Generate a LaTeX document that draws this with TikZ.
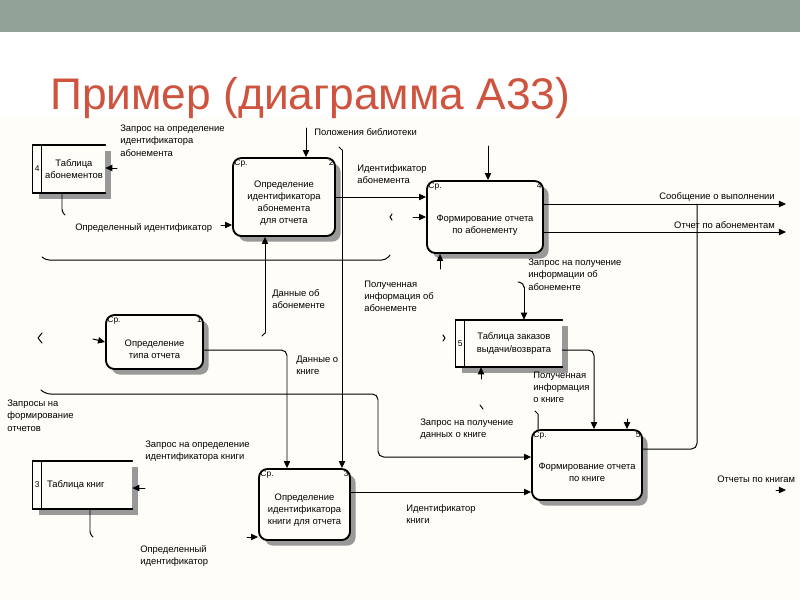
\documentclass[tikz,border=0pt]{standalone}
\usepackage{fontspec}
\setmainfont{Liberation Sans}
\usetikzlibrary{arrows.meta}
\usetikzlibrary{positioning}
\usetikzlibrary{shadows}

\definecolor{slidebar}{HTML}{93A299}
\definecolor{titlered}{HTML}{CF543F}
\definecolor{paper}{HTML}{FFFDF7}
\newcommand\diagfont{\fontsize{6.7}{8.6}\selectfont}
\newcommand\cornerfont{\fontsize{6}{7}\selectfont}

\tikzset{
  act/.style={draw, line width=1.3pt, rounded corners=6pt, fill=paper,
    drop shadow={shadow xshift=4pt, shadow yshift=-4pt, fill=black!40, opacity=1}},
  store/.style={fill=paper,
    drop shadow={shadow xshift=4pt, shadow yshift=-4pt, fill=black!40, opacity=1}},
  intext/.style={font=\diagfont, align=center, inner sep=0pt},
  corner/.style={font=\cornerfont, inner sep=1.5pt},
  lbl/.style={font=\diagfont, align=left, anchor=north west, inner sep=0pt},
  arr/.style={-{Triangle[length=5pt,width=4.5pt]}, line width=0.7pt},
  wire/.style={line width=0.7pt},
}

\begin{document}
\begin{tikzpicture}[x=0.025cm,y=-0.025cm,line cap=round,line join=round]
\useasboundingbox (0,0) rectangle (800,600);
\fill[white] (0,0) rectangle (800,600);
\fill[slidebar] (0,0) rectangle (800,32);
\fill[paper] (0,117) rectangle (800,600);
\node[anchor=base west, inner sep=0pt, text=titlered, font=\fontsize{31.5}{36}\selectfont] (ttl) at (50,109) {Пример (диаграмма А33)};

% activity boxes
\node[act, minimum width=2.55cm, minimum height=1.95cm,
  label={[corner,anchor=north west]north west:Ср.},
  label={[corner,anchor=north east]north east:2}] (a2) at (284,197) {};
\node[intext] (a2t) at ([yshift=-4.5pt]a2.center) {Определение\\идентификатора\\абонемента\\для отчета};
\node[act, minimum width=2.9cm, minimum height=1.8cm,
  label={[corner,anchor=north west]north west:Ср.},
  label={[corner,anchor=north east]north east:4}] (a4) at (485,217) {};
\node[intext] (a4t) at ([yshift=-6pt]a4.center) {Формирование отчета\\по абонементу};
\node[act, minimum width=2.425cm, minimum height=1.35cm,
  label={[corner,anchor=north west]north west:Ср.},
  label={[corner,anchor=north east]north east:1}] (a1) at (154.5,342) {};
\node[intext] (a1t) at ([yshift=-5pt]a1.center) {Определение\\типа отчета};
\node[act, minimum width=2.275cm, minimum height=1.775cm,
  label={[corner,anchor=north west]north west:Ср.},
  label={[corner,anchor=north east]north east:3}] (a3) at (304.5,504.5) {};
\node[intext] (a3t) at ([yshift=-4pt]a3.center) {Определение\\идентификатора\\книги для отчета};
\node[act, minimum width=2.75cm, minimum height=1.75cm,
  label={[corner,anchor=north west]north west:Ср.},
  label={[corner,anchor=north east]north east:5}] (a5) at (587,465) {};
\node[intext] (a5t) at ([yshift=-5pt]a5.center) {Формирование отчета\\по книге};

% data stores
\node[store, minimum width=1.8cm, minimum height=1.2cm] (t4) at (69,169) {};
\node[store, minimum width=2.65cm, minimum height=1.175cm] (t5) at (509,343.5) {};
\node[store, minimum width=2.475cm, minimum height=1.2cm] (t3) at (82.5,485) {};
\foreach \t/\n in {t4/4,t5/5,t3/3}{
  \draw[line width=1.3pt] (\t.north west) -- (\t.north east) (\t.south west) -- (\t.south east);
  \draw[wire] (\t.north west) -- (\t.south west) ([xshift=6.5pt]\t.north west) -- ([xshift=6.5pt]\t.south west);
  \node[corner] (\t n) at ([xshift=3.25pt]\t.west) {\n};
}
\node[intext] (t4t) at ([xshift=3.5pt]t4.center) {Таблица\\абонементов};
\node[intext] (t5t) at ([xshift=3.5pt]t5.center) {Таблица заказов\\выдачи/возврата};
\node[intext, anchor=west] (t3t) at ([xshift=10pt]t3.west) {Таблица книг};

% connector ends
\coordinate (c-lib) at (306,128);
\coordinate (c-long) at (342,150);
\coordinate (c-ab) at (400,197);
\coordinate (c-a4in) at (413,217);
\coordinate (c-a4top) at (488,146);
\coordinate (o-msg) at (786,204);
\coordinate (o-rep) at (786,232);
\coordinate (j-msg) at (697,204);
\coordinate (j-low) at (697,449);
\coordinate (c-abdata) at (265,333);
\coordinate (h1a) at (45,260);
\coordinate (h1b) at (386,260);
\coordinate (c-a4b) at (440,269);
\coordinate (c-t5q) at (524,287);
\coordinate (c-t5b) at (481,379);
\coordinate (c-t5r) at (594,350);
\coordinate (c-a5l) at (538,414);
\coordinate (c-a5r) at (627,419);
\coordinate (c-a1in) at (93,339);
\coordinate (c-bk) at (287,350);
\coordinate (h2a) at (45,394);
\coordinate (h2b) at (378,394);
\coordinate (h2c) at (378,457);
\coordinate (c-t4in) at (117,168);
\coordinate (c-t4out) at (62,212);
\coordinate (c-a2in) at (221,225);
\coordinate (c-t3in) at (145,488);
\coordinate (c-t3out) at (90,534);
\coordinate (c-a3in) at (247,537);
\coordinate (c-id) at (400,492);
\coordinate (o-bk) at (786,490);

% connectors
\draw[arr] (c-lib) -- (a2.north -| c-lib);
\draw[wire] (c-long) -- ++(-3,-3);
\draw[arr] (c-long) -- (a3.north -| c-long);
\draw[arr] (a2.east |- c-ab) -- (a4.west |- c-ab);
\draw[wire] (392,214) -- ++(-2,3) -- ++(2,3);
\draw[arr] (c-a4in) -- (a4.west);
\draw[arr] (c-a4top) -- (a4.north -| c-a4top);
\draw[arr] (a4.east |- o-msg) -- (o-msg);
\draw[arr] (a4.east |- o-rep) -- (o-rep);
\draw[wire, rounded corners=4pt] (a5.east |- j-low) -- (j-low) -- (j-msg);
\draw[arr] (c-abdata) -- (a2.south -| c-abdata);
\draw[wire] (c-abdata) -- ++(-3,3);
\draw[wire, rounded corners=3pt] ([shift={(-3,-3)}]h1a) -- (h1a) -- (h1b) -- ++(4,-5);
\draw[arr] (c-a4b) -- (a4.south -| c-a4b);
\draw[wire, rounded corners=3pt] (518,282) -- (524,283) -- (c-t5q);
\draw[arr] (c-t5q) -- (t5.north -| c-t5q);
\draw[arr] (c-t5b) -- (t5.south -| c-t5b);
\draw[wire] (443,335) -- ++(2,3) -- ++(-2,3);
\draw[arr, rounded corners=4pt] (t5.east |- c-t5r) -- (c-t5r) -- (a5.north -| c-t5r);
\draw[wire] ([shift={(-3,-3)}]c-a5l) -- (c-a5l) -- (a5.north -| c-a5l);
\draw[arr] (c-a5r) -- (a5.north -| c-a5r);
\draw[wire] (42,333) -- (38,338) -- (42,343);
\draw[arr] (c-a1in) -- (a1.west);
\draw[arr, rounded corners=4pt] (a1.east |- c-bk) -- (c-bk) -- (a3.north -| c-bk);
\draw[arr, rounded corners=4pt] ([shift={(-3,-3)}]h2a) -- (h2a) -- (h2b) -- (h2c) -- (a5.west |- h2c);
\draw[wire] (480,405) -- ++(3,4);
\draw[arr] (c-t4in) -- (t4.east |- c-t4in);
\draw[wire, rounded corners=2pt] (t4.south -| c-t4out) -- (c-t4out) -- ++(3,3);
\draw[arr] (c-a2in) -- (a2.west |- c-a2in);
\draw[arr] (c-t3in) -- (t3.east |- c-t3in);
\draw[wire, rounded corners=2pt] (t3.south -| c-t3out) -- (c-t3out) -- ++(3,3);
\draw[arr] (c-a3in) -- (a3.west |- c-a3in);
\draw[arr] (a3.east |- c-id) -- (a5.west |- c-id);
\draw[arr] ([xshift=-7pt]o-bk) -- (o-bk);

% labels
\node[lbl] (l-qab) at (120,125) {Запрос на определение\\идентификатора\\абонемента};
\node[lbl] (l-lib) at (314,128) {Положения библиотеки};
\node[lbl] (l-idab) at (357,164) {Идентификатор\\абонемента};
\node[lbl, anchor=north east] (l-msg) at (775,192) {Сообщение о выполнении};
\node[lbl, anchor=north east] (l-rep) at (775,221) {Отчет по абонементам};
\node[lbl] (l-def1) at (75,223) {Определенный идентификатор};
\node[lbl] (l-abd) at (272,289) {Данные об\\абонементе};
\node[lbl] (l-gotab) at (364,281) {Полученная\\информация об\\абонементе};
\node[lbl] (l-qinfo) at (528,259) {Запрос на получение\\информации об\\абонементе};
\node[lbl] (l-bkd) at (296,356) {Данные о\\книге};
\node[lbl] (l-gotbk) at (533,372) {Полученная\\информация\\о книге};
\node[lbl] (l-qrep) at (7,400) {Запросы на\\формирование\\отчетов};
\node[lbl] (l-qbk) at (420,419) {Запрос на получение\\данных о книге};
\node[lbl] (l-qidbk) at (145,441) {Запрос на определение\\идентификатора книги};
\node[lbl] (l-def2) at (140,545) {Определенный\\идентификатор};
\node[lbl] (l-idbk) at (406,504) {Идентификатор\\книги};
\node[lbl] (l-repbk) at (717,476) {Отчеты по книгам};
\end{tikzpicture}
\end{document}
